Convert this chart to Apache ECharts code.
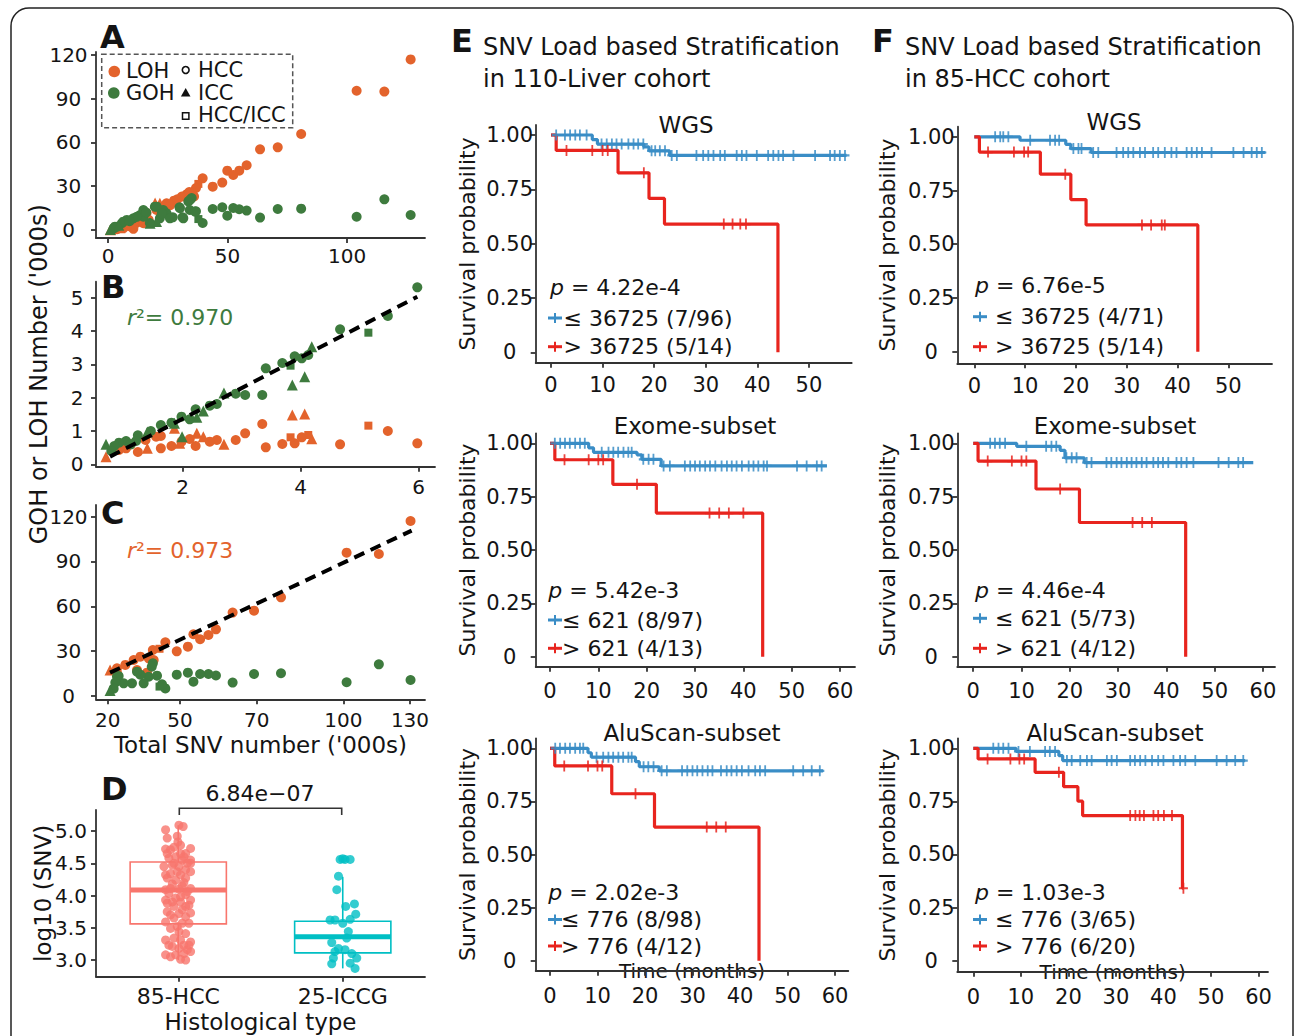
<!DOCTYPE html>
<html><head><meta charset="utf-8">
<script src="https://cdn.jsdelivr.net/npm/echarts@6/dist/echarts.min.js"></script>
<style>html,body{margin:0;padding:0;background:#fff}#c{width:1295px;height:1036px}</style>
</head><body><div id="c"></div>
<script>
// ================= DATA =================
// Panel A: [total SNV ('000s), count ('000s), shape 0=HCC 1=ICC 2=HCC/ICC]
const A_LOH = [[126.6,117,0],[104,95.5,0],[115.6,94.9,0],[80.8,65.8,0],[71,56.7,0],[63.6,55.3,0],[58,44.4,0],[54.9,40.7,0],[49.9,40.7,0],[52.4,37.7,0],[47.8,32.5,0],[43.8,29.7,0],[39.6,35.4,0],[37.8,31.6,2],[36.8,28.8,0],[35,25.6,0],[32.9,24.5,0],[30.9,22.9,0],[27.6,20.1,0],[24.5,18.3,0],[21.7,18.3,1],[20.3,13.7,0],[16.1,11.4,0],[14,8.2,0],[11.9,4.8,0],[9.3,2.5,0],[6.5,1.3,0],[3.8,0.5,0],[1,0.2,1],[19.7,18.5,1],[14.8,4.6,0],[10.6,0.8,0],[8,3,0],[5,1.5,1],[2.5,0.6,0],[34,26,0],[36,23,0],[26,17,0],[17,7,0],[22,12,0],[29,21,0]];
const A_GOH = [[126.6,10.3,0],[115.6,21,0],[104,9.1,0],[80.8,14.6,0],[71,14.4,0],[63.6,8.5,0],[58,13.3,0],[54.9,14.2,0],[52.4,15.1,0],[47.8,15.6,0],[49.9,9.8,0],[43.8,14.4,0],[39.6,4.8,0],[37.8,7.5,2],[36.8,12.8,0],[35,21.9,0],[33.6,19.6,0],[34.2,13.7,0],[31.2,8.7,0],[29.9,15.6,0],[27.1,8.7,0],[24.5,11.4,0],[23.1,13.7,0],[21.7,8,0],[19.6,16,0],[20.3,5.9,1],[17.5,4.8,0],[14.8,13.7,0],[13.4,10.3,0],[10.6,8,0],[7.9,6.9,0],[5.8,4.6,0],[3.8,2.3,0],[2.4,1.1,0],[1,0.4,1],[34.3,20.6,0],[30.1,14.9,0],[20.4,16,0],[22.5,11.4,0],[25.9,8,0],[31.5,8,0],[36.4,12.6,0],[17.6,4.6,1],[14.8,9.1,0],[6.4,5.7,0],[2.9,2.3,0],[12,9,0],[9,6,0],[16,12,0],[4.5,3.2,1]];
const A_X_TICKS = [0,50,100];
const A_Y_TICKS = [0,30,60,90,120];

// Panel B
const B_GOH = [[5.98,5.31,0],[5.48,4.45,0],[5.15,3.95,2],[4.67,4.05,0],[4.19,3.53,1],[4.13,3.28,0],[4.02,3.18,0],[3.90,3.24,0],[3.83,2.96,2],[3.69,3.04,0],[3.41,2.88,0],[3.86,2.38,1],[4.07,2.63,1],[3.35,2.08,0],[3.06,2.08,0],[2.90,2.12,0],[2.70,2.14,1],[2.58,1.81,0],[2.46,1.76,0],[2.35,1.60,1],[2.22,1.65,0],[2.24,1.41,1],[2.12,1.35,0],[1.98,1.43,0],[1.99,0.83,1],[1.86,1.23,1],[1.81,1.25,0],[1.63,1.18,0],[1.46,1.0,0],[1.40,0.97,1],[1.24,0.87,0],[1.21,0.70,0],[1.04,0.70,0],[0.92,0.65,0],[0.84,0.55,0],[0.70,0.60,1],[0.79,0.40,0],[1.12,0.60,0]];
const B_LOH = [[5.98,0.63,0],[5.48,1.0,0],[5.15,1.16,2],[4.67,0.60,0],[4.19,0.77,1],[4.07,1.51,1],[3.86,1.48,1],[4.13,0.88,2],[4.02,0.81,0],[3.90,0.63,0],[3.83,0.81,2],[3.69,0.61,0],[3.41,0.51,0],[3.35,1.21,0],[3.06,0.93,0],[2.90,0.73,0],[2.70,0.60,1],[2.58,0.73,0],[2.46,0.68,0],[2.35,0.83,1],[2.22,0.55,0],[2.24,0.93,1],[2.12,0.76,0],[1.98,0.68,0],[1.95,0.63,1],[1.86,1.08,1],[1.81,0.55,0],[1.63,0.85,0],[1.63,0.48,0],[1.55,0.83,0],[1.40,0.48,1],[1.37,0.73,0],[1.24,0.37,0],[1.12,0.60,0],[1.04,0.48,0],[0.92,0.43,0],[0.84,0.43,0],[0.70,0.23,1]];
const B_FIT = [0.921, -0.477, 0.768, 5.98]; // slope, intercept, xFrom, xTo
const B_R2 = '0.970';
const B_X_TICKS = [2,4,6];
const B_Y_TICKS = [0,1,2,3,4,5];

// Panel C
const C_LOH = [[127.2,117.1,0],[104.2,95.9,0],[115.8,95,0],[80.6,66,0],[70.9,57.1,0],[63.2,55.8,0],[57.2,44.6,0],[54.5,40.8,0],[49.1,41.3,0],[51.5,38,0],[47.1,33,0],[43.1,29.9,0],[39,35.9,0],[36.9,31.6,2],[34.5,30.8,0],[33,25.2,0],[30,26.3,0],[27.6,24.1,0],[24.6,20.8,0],[21.6,18.5,0],[19.1,17.4,1],[28.8,17.4,0],[32.4,15.6,0],[34.8,24.1,0],[21.6,15.6,0]];
const C_GOH = [[127.2,10.7,0],[115.8,21.2,0],[104.2,9.2,0],[80.6,15.2,0],[70.9,14.7,0],[63.2,9,0],[57.2,13.7,0],[54.5,14.7,0],[51.5,14.7,0],[47.1,15.6,0],[49.1,9.6,0],[43.1,14.3,0],[39,5.1,0],[37.8,7.8,0],[36.9,6.3,2],[36,13.6,0],[34.5,21.9,0],[34.1,19.6,0],[33,12.9,0],[31.2,8.5,0],[30,14.3,0],[27,8.5,0],[28.8,16.3,0],[24,8.5,0],[22.2,13.4,0],[21.6,13,0],[21,9,0],[20.4,4.9,0],[19.1,3.7,1]];
const C_FIT = [0.876, -1.1, 19.1, 127.6];
const C_R2 = '0.973';
const C_TICK_POS = [18.3, 44.3, 71.9, 103, 127];
const C_TICK_LABELS = ['20','50','70','100','130'];
const C_Y_TICKS = [0,30,60,90,120];

// Panel D
const D_CATEGORIES = ['85-HCC','25-ICCG'];
const D_BOXES = [[1, 3.0, 3.56, 4.085, 4.52, 5.09],[2, 2.87, 3.11, 3.36, 3.60, 4.29]]; // x, lo, q1, median, q3, hi
const D_HCC = [[0.004,5.09],[0.030,5.07],[-0.077,5.02],[-0.006,4.92],[-0.067,4.89],[-0.002,4.83],[-0.026,4.75],[0.014,4.78],[0.075,4.73],[-0.077,4.72],[0.045,4.65],[-0.016,4.60],[-0.057,4.58],[0.075,4.55],[0.024,4.55],[0.075,4.50],[-0.087,4.45],[0.004,4.45],[0.045,4.40],[-0.047,4.34],[0.075,4.37],[0.014,4.32],[-0.067,4.27],[-0.016,4.24],[0.045,4.27],[-0.036,4.18],[0.024,4.15],[0.075,4.11],[-0.077,4.09],[0.004,4.10],[-0.057,4.03],[0.045,4.01],[-0.016,3.96],[-0.077,3.93],[0.014,3.90],[0.075,3.93],[-0.026,3.83],[0.045,3.83],[-0.067,3.75],[0.004,3.72],[0.075,3.73],[-0.026,3.65],[-0.077,3.59],[0.024,3.57],[0.065,3.57],[-0.047,3.49],[0.004,3.44],[0.045,3.41],[-0.026,3.34],[0.014,3.31],[0.075,3.28],[-0.057,3.23],[0.004,3.18],[0.055,3.16],[-0.077,3.08],[-0.016,3.08],[0.034,3.10],[0.075,3.13],[-0.047,3.05],[0.014,3.01],[0.045,3.00],[-0.047,4.71],[0.034,4.60],[-0.036,4.47],[0.055,4.50],[-0.006,4.37],[-0.077,4.32],[0.034,4.20],[-0.047,4.11],[0.055,4.06],[0.014,3.98],[-0.036,3.90],[-0.067,3.88],[0.065,3.85],[0.024,3.78],[-0.047,3.70],[0.045,3.67],[-0.006,3.52],[-0.077,3.31],[0.034,3.23],[-0.036,3.21],[0.065,3.23],[-0.026,4.50],[-0.067,4.65],[0.014,4.65]];
const D_ICCG = [[-0.016,4.56],[0.014,4.56],[0.045,4.56],[0,4.57],[-0.026,4.30],[-0.036,4.09],[0.071,3.87],[0.018,3.83],[0.079,3.71],[-0.077,3.62],[-0.047,3.62],[0,3.57],[0.045,3.63],[0.034,3.44],[0.024,3.34],[-0.067,3.27],[-0.026,3.18],[0.014,3.16],[-0.047,3.13],[0.055,3.10],[-0.057,3.03],[0.085,3.03],[-0.067,2.94],[0.045,2.95],[0.075,2.87]];
const D_P = '6.84e\u221207';
const D_Y_TICKS = [3,3.5,4,4.5,5];

// Kaplan-Meier curves: steps [time, survival], censor times
const E_WGS_LOW = [[0,1],[8,0.979],[9,0.958],[18,0.945],[19,0.927],[23,0.906],[57.3,0.906]];
const E_WGS_LOW_CENSOR = [1,2.7,3.7,4.7,5.6,6.9,9.8,10.8,11.8,12.7,13.7,15,16,16.9,17.9,19.5,20.2,21.1,22.1,23.4,24.4,28.2,29.5,30.5,31.5,32.8,33.7,36,37,37.9,39.9,42.1,43.1,44.1,45,47,51.2,54.1,55,56,57];
const E_WGS_HIGH = [[0,1],[1,0.929],[13,0.826],[19,0.708],[22,0.590],[44,0]];
const E_WGS_HIGH_CENSOR = [3,8,10,11,18,33.5,35.2,36.7,37.8];
const E_WGS_TEXT = ['4.22e-4','\u2264 36725 (7/96)','> 36725 (5/14)'];

const E_EXOME_LOW = [[0,1],[8,0.979],[9,0.958],[18,0.946],[19,0.925],[23,0.894],[57.3,0.894]];
const E_EXOME_LOW_CENSOR = [1,2.1,3.1,4.1,5.2,6.2,7.2,10.7,12.1,13.1,14.1,15.2,16.2,16.9,19.3,20.4,21.4,23.5,24.8,27.9,29,30,31,32.1,33.1,34.2,35.5,36.6,37.6,38.6,39.7,41.1,42.1,43.1,44.2,44.9,51.1,53.1,55.2,56.2];
const E_EXOME_HIGH = [[0,1],[1,0.923],[13,0.808],[22,0.673],[44,0]];
const E_EXOME_HIGH_CENSOR = [3,8,10,11,18,33,35,37,40];
const E_EXOME_TEXT = ['5.42e-3','\u2264 621 (8/97)','> 621 (4/13)'];

const E_ALU_LOW = [[0,1],[8,0.979],[8.7,0.958],[18,0.937],[18.8,0.913],[23,0.894],[57.5,0.894]];
const E_ALU_LOW_CENSOR = [1.1,2.1,3.2,4.2,5.3,6.3,7,9.8,11.2,12.3,13.3,14.4,15.4,16.5,17.2,19.7,20.7,21.8,23.5,24.6,27.8,28.9,30,31,32.1,33.2,34.2,36,37.2,38.2,39.3,40.4,41.8,43.2,44.2,45.3,51.2,53.3,55.1,56.8];
const E_ALU_HIGH = [[0,1],[1,0.917],[13,0.786],[22,0.629],[44,0]];
const E_ALU_HIGH_CENSOR = [3,8,10,11,18,33,35,37];
const E_ALU_TEXT = ['2.02e-3','\u2264 776 (8/98)','> 776 (4/12)'];

const F_WGS_LOW = [[0,1],[9,0.984],[18,0.965],[19,0.945],[23,0.927],[57.3,0.927]];
const F_WGS_LOW_CENSOR = [4.1,5.1,5.7,6.7,11,14.9,15.9,16.7,19.5,20.5,21.1,23.4,24.4,28,29.3,30.3,31.3,32.6,33.6,35.2,36.2,37.5,38.8,39.8,41.8,42.8,43.8,44.8,46.7,51,53,54.6,55.6,56.6];
const F_WGS_HIGH = [[0,1],[1,0.929],[13,0.826],[19,0.708],[22,0.590],[44,0]];
const F_WGS_HIGH_CENSOR = [2.7,7.8,9.8,10.6,17.9,33,34.8,36.9,37.5];
const F_WGS_TEXT = ['6.76e-5','\u2264 36725 (4/71)','> 36725 (5/14)'];

const F_EXOME_LOW = [[0,1],[9,0.986],[18,0.967],[19,0.932],[23,0.910],[58,0.910]];
const F_EXOME_LOW_CENSOR = [3.5,4.5,5.5,6.6,11,15.1,16.2,17.2,19.3,20.4,21.4,23.5,24.5,27.6,28.6,29.7,30.7,31.8,32.8,33.8,34.9,35.9,37.3,38.3,39.3,40.4,42.1,43.1,44.2,45.6,50.8,52.9,54.9,55.9];
const F_EXOME_HIGH = [[0,1],[1,0.917],[13,0.786],[22,0.629],[44,0]];
const F_EXOME_HIGH_CENSOR = [3,8,10,11,18,33,35,37];
const F_EXOME_TEXT = ['4.46e-4','\u2264 621 (5/73)','> 621 (4/12)'];

const F_ALU_LOW = [[0,1],[9,0.985],[18,0.965],[18.8,0.942],[57.2,0.942]];
const F_ALU_LOW_CENSOR = [4.2,5.3,6.3,7.4,9.5,11.9,15.1,16.1,17.2,19.7,20.7,22.5,23.9,24.9,28.1,29.1,30.2,33,34,35.1,36.2,37.6,38.9,40,42.1,43.5,44.6,46.7,51.2,53.3,55.1,56.8];
const F_ALU_HIGH = [[0,1],[1,0.95],[13,0.887],[19,0.819],[22,0.751],[23,0.683],[44,0.341],[44.2,0.341]];
const F_ALU_HIGH_CENSOR = [3,7.8,9.7,10.7,18,33,34.1,35,35.9,37.9,38.9,40.1,41.8,44.2];
const F_ALU_TEXT = ['1.03e-3','\u2264 776 (3/65)','> 776 (6/20)'];

const KM_X_TICKS_50 = [0,10,20,30,40,50];
const KM_X_TICKS_60 = [0,10,20,30,40,50,60];
const KM_Y_TICKS = [0,0.25,0.5,0.75,1];

// ================= STYLE / LAYOUT =================
const FONT = 'DejaVu Sans';
const TXT = '#141414', AX = '#333333';
const ORANGE = '#E3632C', GREEN = '#3E7B3E', BLUE = '#3A8DC6', RED = '#E8241E';
const SALMON = '#F8766D', CYAN = '#00BFC4';
const SHAPES = ['circle','triangle','rect'];
const SHAPE_SIZE = [10, 11, 8];
const PLUS = 'path://M4,0H6V4H10V6H6V10H4V6H0V4H4Z';

const grids = [], xAxes = [], yAxes = [], series = [], graphics = [];

function addGrid(r){ grids.push({left:r[0], top:r[1], width:r[2], height:r[3], containLabel:false, outerBoundsMode:'none'}); return grids.length - 1; }
function mkAxis(gi, min, max, ticks, fmt, fs, margin, o){
  o = o || {};
  const ax = {type:'value', gridIndex:gi, min:min, max:max,
    axisLine:{show:true, onZero:false, lineStyle:{color:AX, width:1.8}},
    axisTick:{show:true, length:5, customValues:ticks, lineStyle:{color:AX, width:1.8}},
    axisLabel:{show:true, customValues:ticks, formatter:fmt, color:TXT, fontFamily:FONT, fontSize:fs, margin:margin},
    splitLine:{show:false}, splitArea:{show:false}, nameMoveOverlap:false};
  if (o.align) ax.axisLabel.align = o.align;
  if (o.name){ ax.name = o.name; ax.nameLocation = 'middle'; ax.nameGap = o.nameGap; if (o.rotate) ax.nameRotate = o.rotate;
    ax.nameTextStyle = {fontFamily:FONT, fontSize:o.nameSize || 22, color:TXT}; }
  return ax;
}
function gText(text, x, y, fs, o){
  o = o || {};
  return {type:'text', x:x, y:y, silent:true, z:100, style:{text:text, fontFamily:FONT, fontSize:fs, fontWeight:o.bold ? 'bold' : 'normal', fill:o.color || TXT, align:o.align || 'left', verticalAlign:'middle', rich:o.rich}};
}
const num = v => String(v);

function scatterPanel(gi, data, color){
  series.push({type:'scatter', xAxisIndex:gi, yAxisIndex:gi, data:data,
    symbol:(v) => SHAPES[v[2]], symbolSize:(v) => SHAPE_SIZE[v[2]],
    itemStyle:{color:color, opacity:1}, z:3});
}
function fitLine(gi, fit){
  const d = [[fit[2], fit[0]*fit[2] + fit[1]], [fit[3], fit[0]*fit[3] + fit[1]]];
  series.push({type:'line', xAxisIndex:gi, yAxisIndex:gi, data:d, showSymbol:false, z:6,
    lineStyle:{color:'#000', width:4, type:[11,7]}});
}

// ---- Panel A
let g = addGrid([96, 52, 329, 186]);
xAxes.push(mkAxis(g, -5.02, 132.6, A_X_TICKS, num, 20, 8));
yAxes.push(mkAxis(g, -5.49, 122.06, A_Y_TICKS, num, 20, 27.5, {align:'center'}));
scatterPanel(g, A_LOH, ORANGE); scatterPanel(g, A_GOH, GREEN);

// ---- Panel B
g = addGrid([96, 281.7, 339, 185]);
xAxes.push(mkAxis(g, 0.53, 6.28, B_X_TICKS, num, 20, 10));
yAxes.push(mkAxis(g, -0.072, 5.48, B_Y_TICKS, num, 20, 19, {align:'center', name:"GOH or LOH Number ('000s)", nameGap:45, rotate:90, nameSize:24}));
scatterPanel(g, B_LOH, ORANGE); scatterPanel(g, B_GOH, GREEN); fitLine(g, B_FIT);

// ---- Panel C
g = addGrid([96, 505, 329, 194.3]);
xAxes.push(mkAxis(g, 14.05, 132.4, C_TICK_POS, v => C_TICK_LABELS[C_TICK_POS.indexOf(v)], 20, 11, {name:"Total SNV number ('000s)", nameGap:34, nameSize:23}));
yAxes.push(mkAxis(g, -2.2, 127.8, C_Y_TICKS, num, 20, 27.5, {align:'center'}));
scatterPanel(g, C_LOH, ORANGE); scatterPanel(g, C_GOH, GREEN); fitLine(g, C_FIT);

// ---- Panel D
g = addGrid([96, 810, 329, 166.7]);
xAxes.push(mkAxis(g, 0.5, 2.5, [1,2], v => D_CATEGORIES[Math.round(v) - 1], 22, 9, {name:'Histological type', nameGap:34, nameSize:23}));
yAxes.push(mkAxis(g, 2.741, 5.326, D_Y_TICKS, v => v.toFixed(1), 20, 25, {align:'center', name:'log10 (SNV)', nameGap:42, rotate:90, nameSize:23}));
const D_COLORS = [SALMON, CYAN];
series.push({type:'custom', xAxisIndex:g, yAxisIndex:g, data:D_BOXES, z:2, renderItem:(params, api) => {
  const x = api.value(0), c = D_COLORS[params.dataIndex];
  const hw = api.size([0.2925, 0])[0];
  const lo = api.coord([x, api.value(1)]), q1 = api.coord([x, api.value(2)]), md = api.coord([x, api.value(3)]),
        q3 = api.coord([x, api.value(4)]), hi = api.coord([x, api.value(5)]);
  return {type:'group', children:[
    {type:'line', shape:{x1:lo[0], y1:lo[1], x2:q1[0], y2:q1[1]}, style:{stroke:c, lineWidth:1.6}},
    {type:'line', shape:{x1:q3[0], y1:q3[1], x2:hi[0], y2:hi[1]}, style:{stroke:c, lineWidth:1.6}},
    {type:'rect', shape:{x:q1[0]-hw, y:q3[1], width:2*hw, height:q1[1]-q3[1]}, style:{fill:'#fff', stroke:c, lineWidth:1.6}},
    {type:'line', shape:{x1:md[0]-hw, y1:md[1], x2:md[0]+hw, y2:md[1]}, style:{stroke:c, lineWidth:5}}
  ]};
}});
series.push({type:'scatter', xAxisIndex:g, yAxisIndex:g, data:D_HCC.map(p => [1 + p[0], p[1]]), symbolSize:9, itemStyle:{color:SALMON}, z:4});
series.push({type:'scatter', xAxisIndex:g, yAxisIndex:g, data:D_ICCG.map(p => [2 + p[0], p[1]]), symbolSize:9, itemStyle:{color:CYAN}, z:4});

// ---- KM panels
function survAt(steps, t){ let s = steps[0][1]; for (const p of steps){ if (p[0] <= t) s = p[1]; } return s; }
const KM_PANELS = [
  {r:[535.7,125,316,237.7], x:[-2.97,58.3], xt:KM_X_TICKS_50, y:[-0.048,1.046], xm:12, title:'WGS', tc:[686,125], low:E_WGS_LOW, lowC:E_WGS_LOW_CENSOR, high:E_WGS_HIGH, highC:E_WGS_HIGH_CENSOR, txt:E_WGS_TEXT, px:550, sx:548, tx:563.5, ty:[287,318,346.7], yg:57},
  {r:[535.7,433.3,319.3,233.4], x:[-2.96,63.1], xt:KM_X_TICKS_60, y:[-0.047,1.047], xm:14, title:'Exome-subset', tc:[695,426], low:E_EXOME_LOW, lowC:E_EXOME_LOW_CENSOR, high:E_EXOME_HIGH, highC:E_EXOME_HIGH_CENSOR, txt:E_EXOME_TEXT, px:548.3, sx:548, tx:562, ty:[590,620,648.3], yg:57},
  {r:[535.7,738.3,312.6,232.4], x:[-3.01,62.8], xt:KM_X_TICKS_60, y:[-0.047,1.047], xm:15, title:'AluScan-subset', tc:[692,733], low:E_ALU_LOW, lowC:E_ALU_LOW_CENSOR, high:E_ALU_HIGH, highC:E_ALU_HIGH_CENSOR, txt:E_ALU_TEXT, px:548.3, sx:548, tx:561, ty:[892,919.5,946], yg:57, xname:true},
  {r:[957.3,126.7,314.7,236.6], x:[-3.35,58.6], xt:KM_X_TICKS_50, y:[-0.054,1.047], xm:12, title:'WGS', tc:[1114,122], low:F_WGS_LOW, lowC:F_WGS_LOW_CENSOR, high:F_WGS_HIGH, highC:F_WGS_HIGH_CENSOR, txt:F_WGS_TEXT, px:975, sx:973, tx:995, ty:[285,316.7,346.7], yg:59},
  {r:[957.3,433.3,317.7,233.4], x:[-3.3,62.5], xt:KM_X_TICKS_60, y:[-0.047,1.047], xm:14, title:'Exome-subset', tc:[1115,426], low:F_EXOME_LOW, lowC:F_EXOME_LOW_CENSOR, high:F_EXOME_HIGH, highC:F_EXOME_HIGH_CENSOR, txt:F_EXOME_TEXT, px:975, sx:973, tx:995, ty:[590,618.3,648.3], yg:59},
  {r:[957.3,738.3,310.7,233.4], x:[-3.37,62.0], xt:KM_X_TICKS_60, y:[-0.052,1.047], xm:15, title:'AluScan-subset', tc:[1115,733], low:F_ALU_LOW, lowC:F_ALU_LOW_CENSOR, high:F_ALU_HIGH, highC:F_ALU_HIGH_CENSOR, txt:F_ALU_TEXT, px:975, sx:973, tx:995, ty:[892,919.5,946], yg:59, xname:true}
];
KM_PANELS.forEach(P => {
  const gi = addGrid(P.r);
  xAxes.push(mkAxis(gi, P.x[0], P.x[1], P.xt, num, 21, P.xm, P.xname ? {name:'Time (months)', nameGap:-9.5, nameSize:20} : null));
  yAxes.push(mkAxis(gi, P.y[0], P.y[1], KM_Y_TICKS, v => v === 0 ? '0' : v.toFixed(2), 21, 26, {align:'center', name:'Survival probability', nameGap:P.yg, rotate:90, nameSize:22}));
  [[P.low, P.lowC, BLUE], [P.high, P.highC, RED]].forEach(([steps, cens, col]) => {
    series.push({type:'line', xAxisIndex:gi, yAxisIndex:gi, data:steps, step:'end', showSymbol:false, z:3,
      lineStyle:{color:col, width:3.2}, itemStyle:{color:col}});
    series.push({type:'scatter', xAxisIndex:gi, yAxisIndex:gi, data:cens.map(t => [t, survAt(steps, t)]),
      symbol:PLUS, symbolSize:[9,11], itemStyle:{color:col, opacity:0.85}, z:4});
  });
  graphics.push(gText(P.title, P.tc[0], P.tc[1], 23, {align:'center'}));
  graphics.push(gText('{i|p} = ' + P.txt[0], P.px, P.ty[0], 22, {rich:{i:{fontStyle:'italic', fontFamily:FONT, fontSize:22, fill:TXT}}}));
  [[P.txt[1], P.ty[1], BLUE], [P.txt[2], P.ty[2], RED]].forEach(([t, y, col]) => {
    graphics.push({type:'line', silent:true, z:100, shape:{x1:P.sx, y1:y, x2:P.sx + 14, y2:y}, style:{stroke:col, lineWidth:3}});
    graphics.push({type:'line', silent:true, z:100, shape:{x1:P.sx + 7, y1:y - 5, x2:P.sx + 7, y2:y + 5}, style:{stroke:col, lineWidth:2}});
    graphics.push(gText(t, P.tx, y, 22));
  });
});

// ---- Annotations
graphics.push({type:'rect', silent:true, shape:{x:11, y:8, width:1282, height:1060, r:18}, style:{fill:'none', stroke:'#222', lineWidth:1.5}});
[['A',100,37],['B',101,287],['C',101,513],['D',101,789],['E',451,41],['F',872,41]].forEach(l => graphics.push(gText(l[0], l[1], l[2], 32, {bold:true})));
graphics.push(gText('SNV Load based Stratification', 483, 47, 24));
graphics.push(gText('in 110-Liver cohort', 483, 79, 24));
graphics.push(gText('SNV Load based Stratification', 905, 47, 24));
graphics.push(gText('in 85-HCC cohort', 905, 79, 24));
// legend of panel A
graphics.push({type:'rect', silent:true, z:100, shape:{x:101.7, y:54.3, width:191, height:73.4}, style:{fill:'#fff', stroke:'#555', lineWidth:1.5, lineDash:[5,3]}});
graphics.push({type:'circle', silent:true, z:101, shape:{cx:114.3, cy:71.5, r:5.8}, style:{fill:ORANGE}});
graphics.push({type:'circle', silent:true, z:101, shape:{cx:113.8, cy:93, r:5.8}, style:{fill:GREEN}});
graphics.push(gText('LOH', 126, 71, 21));
graphics.push(gText('GOH', 126, 92.5, 21));
graphics.push({type:'circle', silent:true, z:101, shape:{cx:185.7, cy:70, r:3.4}, style:{fill:'none', stroke:'#111', lineWidth:1.6}});
graphics.push({type:'polygon', silent:true, z:101, shape:{points:[[185.7,88],[190.5,96.5],[180.9,96.5]]}, style:{fill:'#111'}});
graphics.push({type:'rect', silent:true, z:101, shape:{x:182.5, y:112.8, width:6.4, height:6.4}, style:{fill:'none', stroke:'#111', lineWidth:1.5}});
graphics.push(gText('HCC', 198, 70, 21));
graphics.push(gText('ICC', 198, 92.5, 21));
graphics.push(gText('HCC/ICC', 198, 115, 21));
// r-squared
const R2_RICH = c => ({i:{fontStyle:'italic', fontFamily:FONT, fontSize:22, fill:c}});
graphics.push(gText('{i|r}\u00b2= ' + B_R2, 127, 317, 22, {color:GREEN, rich:R2_RICH(GREEN)}));
graphics.push(gText('{i|r}\u00b2= ' + C_R2, 127, 550, 22, {color:ORANGE, rich:R2_RICH(ORANGE)}));
// panel D significance bracket
graphics.push({type:'polyline', silent:true, shape:{points:[[179.3,815],[179.3,808.3],[341.7,808.3],[341.7,815]]}, style:{fill:'none', stroke:'#333', lineWidth:1.6}});
graphics.push(gText(D_P, 260, 793.3, 22, {align:'center'}));

const chart = echarts.init(document.getElementById('c'), null, {renderer:'svg'});
chart.setOption({
  animation:false, backgroundColor:'#fff',
  textStyle:{fontFamily:FONT},
  grid:grids, xAxis:xAxes, yAxis:yAxes, series:series,
  graphic:{elements:graphics}
});
</script></body></html>
